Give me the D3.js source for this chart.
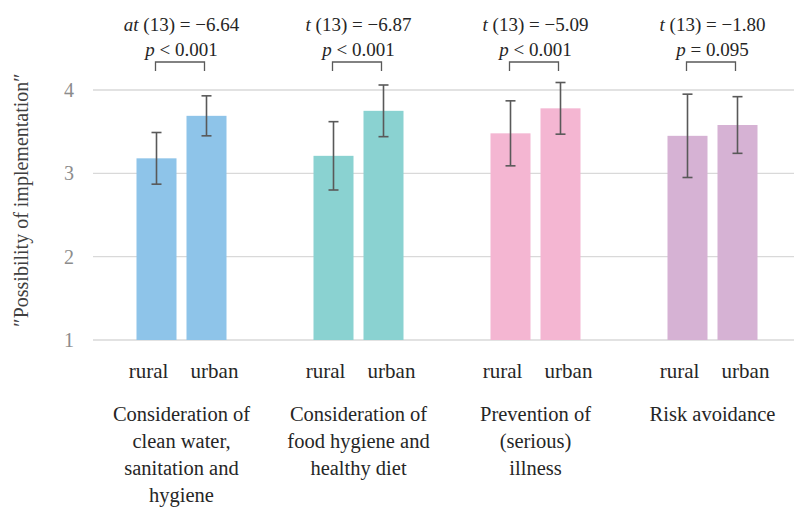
<!DOCTYPE html>
<html>
<head>
<meta charset="utf-8">
<script src="https://cdn.jsdelivr.net/npm/d3@7"></script>
<style>
  body { margin: 0; background: #fff; }
  text { font-family: "Liberation Serif", "DejaVu Serif", serif; }
</style>
</head>
<body>
<div id="chart"></div>
<script>
// Data
const categories = [
    ["Consideration of", "clean water,", "sanitation and", "hygiene"],
    ["Consideration of", "food hygiene and", "healthy diet"],
    ["Prevention of", "(serious)", "illness"],
    ["Risk avoidance"]
];
const groups = ["rural", "urban"];
const ruralMeans = [3.18, 3.21, 3.48, 3.45];
const urbanMeans = [3.69, 3.75, 3.78, 3.58];
const ruralErr = [0.31, 0.41, 0.39, 0.50];
const urbanErr = [0.24, 0.31, 0.31, 0.34];
const tStats = [["at", " (13) = −6.64"], ["t", " (13) = −6.87"], ["t", " (13) = −5.09"], ["t", " (13) = −1.80"]];
const pStats = [" < 0.001", " < 0.001", " < 0.001", " = 0.095"];
const colors = ["#8ec4e9", "#8ad2d1", "#f4b6d2", "#d6b2d4"];
const yTicks = [1, 2, 3, 4];

function drawChart() {
    const width = 794, height = 510;
    const svg = d3.select("#chart").append("svg")
        .attr("width", width)
        .attr("height", height);

    const x = d3.scaleBand()
        .domain(d3.range(categories.length))
        .range([93, 801]);

    const xSub = d3.scaleBand()
        .domain(groups)
        .range([x.bandwidth() / 2 - 45, x.bandwidth() / 2 + 45])
        .paddingInner(0.2);

    // wider sub-bands for the rural / urban labels
    const xLabel = d3.scaleBand()
        .domain(groups)
        .range([x.bandwidth() / 2 - 66, x.bandwidth() / 2 + 66]);

    const y = d3.scaleLinear()
        .domain([1, 4])
        .range([340, 90]);

    // gridlines
    svg.append("g")
        .selectAll("line")
        .data(yTicks)
        .enter()
        .append("line")
        .attr("x1", 93)
        .attr("x2", width)
        .attr("y1", d => y(d))
        .attr("y2", d => y(d))
        .attr("stroke", "#d9d9d9")
        .attr("stroke-width", 1.3);

    // y tick labels
    svg.append("g")
        .selectAll("text")
        .data(yTicks)
        .enter()
        .append("text")
        .attr("x", 74)
        .attr("y", d => y(d) + 7)
        .attr("text-anchor", "end")
        .attr("fill", "#8c8c8c")
        .style("font-size", "20px")
        .text(d => d);

    // y axis title
    svg.append("text")
        .attr("transform", "rotate(-90)")
        .attr("x", -200)
        .attr("y", 28)
        .attr("text-anchor", "middle")
        .attr("fill", "#404040")
        .style("font-size", "20px")
        .text("″Possibility of implementation″");

    const data = categories.map((c, i) => ({
        i: i,
        bars: [
            { g: "rural", v: ruralMeans[i], e: ruralErr[i] },
            { g: "urban", v: urbanMeans[i], e: urbanErr[i] }
        ]
    }));

    const group = svg.selectAll(".grp")
        .data(data)
        .enter()
        .append("g")
        .attr("class", "grp")
        .attr("transform", d => `translate(${x(d.i)},0)`);

    // bars
    group.selectAll(".bar")
        .data(d => d.bars.map(b => ({ ...b, i: d.i })))
        .enter()
        .append("rect")
        .attr("class", "bar")
        .attr("x", d => xSub(d.g))
        .attr("y", d => y(d.v))
        .attr("width", xSub.bandwidth())
        .attr("height", d => y(1) - y(d.v))
        .attr("fill", d => colors[d.i]);

    // error bars
    const err = group.selectAll(".err")
        .data(d => d.bars)
        .enter()
        .append("g")
        .attr("class", "err")
        .attr("stroke", "#595959")
        .attr("stroke-width", 1.6);

    const cx = d => xSub(d.g) + xSub.bandwidth() / 2;
    err.append("line")
        .attr("x1", cx).attr("x2", cx)
        .attr("y1", d => y(d.v + d.e))
        .attr("y2", d => y(d.v - d.e));
    err.append("line")
        .attr("x1", d => cx(d) - 5).attr("x2", d => cx(d) + 5)
        .attr("y1", d => y(d.v + d.e))
        .attr("y2", d => y(d.v + d.e));
    err.append("line")
        .attr("x1", d => cx(d) - 5).attr("x2", d => cx(d) + 5)
        .attr("y1", d => y(d.v - d.e))
        .attr("y2", d => y(d.v - d.e));

    // significance bracket
    const r = xSub("rural") + xSub.bandwidth() / 2 - 1;
    const u = xSub("urban") + xSub.bandwidth() / 2 - 2;
    group.append("path")
        .attr("d", `M${r},71V62H${u}V71`)
        .attr("fill", "none")
        .attr("stroke", "#595959")
        .attr("stroke-width", 1.3);

    const mid = x.bandwidth() / 2;
    const tText = group.append("text")
        .attr("x", mid)
        .attr("y", 31)
        .attr("text-anchor", "middle")
        .attr("fill", "#262626")
        .style("font-size", "19px");
    tText.append("tspan").style("font-style", "italic").text(d => tStats[d.i][0]);
    tText.append("tspan").text(d => tStats[d.i][1]);

    const pText = group.append("text")
        .attr("x", mid)
        .attr("y", 56)
        .attr("text-anchor", "middle")
        .attr("fill", "#262626")
        .style("font-size", "19px");
    pText.append("tspan").style("font-style", "italic").text("p");
    pText.append("tspan").text(d => pStats[d.i]);

    // rural / urban labels
    group.selectAll(".sub")
        .data(d => d.bars)
        .enter()
        .append("text")
        .attr("class", "sub")
        .attr("x", d => xLabel(d.g) + xLabel.bandwidth() / 2)
        .attr("y", 378)
        .attr("text-anchor", "middle")
        .attr("fill", "#262626")
        .style("font-size", "21px")
        .text(d => d.g);

    // category labels
    group.append("text")
        .attr("text-anchor", "middle")
        .attr("fill", "#262626")
        .style("font-size", "20.5px")
        .selectAll("tspan")
        .data(d => categories[d.i])
        .enter()
        .append("tspan")
        .attr("x", mid)
        .attr("y", (d, j) => 421 + j * 27)
        .text(d => d);
}

drawChart();
</script>
</body>
</html>
